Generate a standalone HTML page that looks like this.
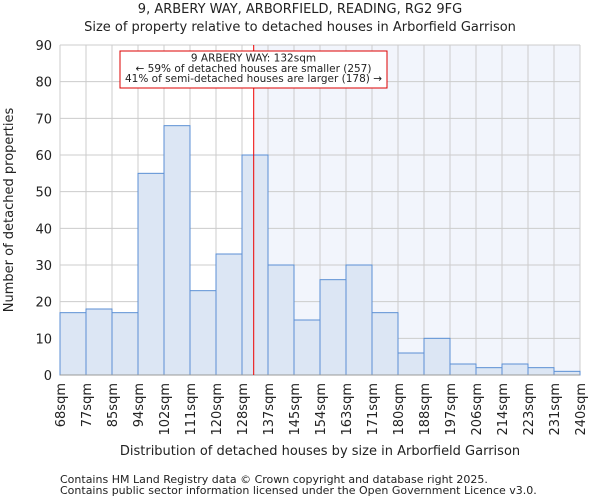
<!DOCTYPE html>
<html><head><meta charset="utf-8"><style>
body{margin:0;background:#fff;font-family:"DejaVu Sans","Liberation Sans",sans-serif}
text{font-family:"DejaVu Sans","Liberation Sans",sans-serif;fill:#222}
</style></head><body>
<svg id="chart" width="600" height="500" xmlns="http://www.w3.org/2000/svg">
<text x="300" y="13" font-size="13" text-anchor="middle">9, ARBERY WAY, ARBORFIELD, READING, RG2 9FG</text>
<text x="300" y="31" font-size="13" text-anchor="middle">Size of property relative to detached houses in Arborfield Garrison</text>
<g id="plot"></g>
<text x="320" y="455" font-size="13" text-anchor="middle">Distribution of detached houses by size in Arborfield Garrison</text>
<text transform="translate(13,210) rotate(-90)" font-size="13" text-anchor="middle">Number of detached properties</text>
<text x="60" y="483" font-size="11" fill="#555">Contains HM Land Registry data © Crown copyright and database right 2025.</text>
<text x="60" y="494" font-size="11" fill="#555">Contains public sector information licensed under the Open Government Licence v3.0.</text>
</svg>
<script>
const binLabels=["68sqm","77sqm","85sqm","94sqm","102sqm","111sqm","120sqm","128sqm","137sqm","145sqm","154sqm","163sqm","171sqm","180sqm","188sqm","197sqm","206sqm","214sqm","223sqm","231sqm","240sqm"];
const counts=[17,18,17,55,68,23,33,60,30,15,26,30,17,6,10,3,2,3,2,1];
const yTicks=[0,10,20,30,40,50,60,70,80,90];
const propertyBinPos=7.45;
const X0=60,X1=580,Y0=375,Y1=45,YMAX=90;
const bw=(X1-X0)/counts.length;
const xs=i=>X0+i*bw;
const ys=v=>Y0-(v/YMAX)*(Y0-Y1);
const ns="http://www.w3.org/2000/svg";
const g=document.getElementById('plot');
function mk(t,a){const e=document.createElementNS(ns,t);for(const k in a)e.setAttribute(k,a[k]);g.appendChild(e);return e;}
const rx=xs(propertyBinPos);
let sh=mk('rect',{x:rx,y:Y1,width:X1-rx,height:Y0-Y1,fill:'#f2f5fc'});


yTicks.forEach(t=>{
 let l=mk('line',{x1:X0,x2:X1,y1:ys(t),y2:ys(t),stroke:'#ccc','stroke-width':1});
 
 
 let tx=mk('text',{x:X0-8,y:ys(t)+5,'font-size':13,'text-anchor':'end'});tx.textContent=t;
 
 
});
binLabels.forEach((lb,i)=>{
 let l=mk('line',{x1:xs(i),x2:xs(i),y1:Y1,y2:Y0,stroke:'#ccc','stroke-width':1});
 
 
 let tx=mk('text',{transform:`translate(${xs(i)+5},${Y0+8}) rotate(-90)`,'font-size':13,'text-anchor':'end'});tx.textContent=lb;
 
 
});
counts.forEach((v,i)=>{
 let r=mk('rect',{x:xs(i),y:ys(v),width:bw,height:Y0-ys(v),fill:'#dce6f4',stroke:'#5b8fd4','stroke-width':1});
 
 
});
let ax=mk('line',{x1:X0,x2:X1,y1:Y0,y2:Y0,stroke:'#999'});


let ml=mk('line',{x1:rx,x2:rx,y1:Y1,y2:Y0,stroke:'#ee0000','stroke-width':1});


let box=mk('rect',{x:120,y:51,width:267,height:37,fill:'#fff',stroke:'#dd0000','stroke-width':1});


["9 ARBERY WAY: 132sqm","← 59% of detached houses are smaller (257)","41% of semi-detached houses are larger (178) →"].forEach((s,i)=>{
 let t=mk('text',{x:253.5,y:61.5+i*10.3,'font-size':10.5,'text-anchor':'middle'});t.textContent=s;
 
 
});
</script>
</body></html>
